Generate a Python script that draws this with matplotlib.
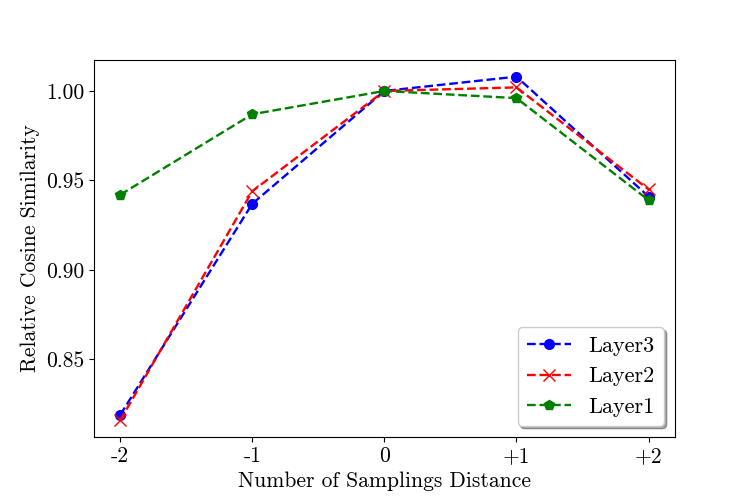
import matplotlib

matplotlib.use("Agg")
import matplotlib.pyplot as plt

plt.rcParams["font.family"] = ["cmr10", "DejaVu Serif"]
plt.rcParams["mathtext.fontset"] = "cm"
plt.rcParams["axes.formatter.use_mathtext"] = True

distances = [-2, -1, 0, 1, 2]
tick_labels = ["-2", "-1", "0", "+1", "+2"]
layer3 = [0.819, 0.937, 1.000, 1.008, 0.941]
layer2 = [0.816, 0.944, 1.000, 1.002, 0.945]
layer1 = [0.942, 0.987, 1.000, 0.996, 0.939]
y_ticks = [0.85, 0.90, 0.95, 1.00]

fig, ax = plt.subplots(figsize=(7.5, 5), dpi=100)
fig.subplots_adjust(left=0.125, right=0.9, top=0.88, bottom=0.126)

ax.plot(distances, layer3, "b--", marker="o", ms=7, lw=1.7, label="Layer3")
ax.plot(distances, layer2, "r--", marker="x", ms=8, lw=1.7, label="Layer2")
ax.plot(distances, layer1, "g--", marker="p", ms=7, lw=1.7, label="Layer1")

ax.set_xticks(distances)
ax.set_xticklabels(tick_labels)
ax.set_yticks(y_ticks)
ax.set_yticklabels([f"{v:.2f}" for v in y_ticks])
ax.set_ylim(0.8067, 1.0173)
ax.tick_params(labelsize=15.5)
ax.set_xlabel("Number of Samplings Distance", fontsize=15.5)
ax.set_ylabel("Relative Cosine Similarity", fontsize=15.5)
ax.legend(loc="lower right", fontsize=16, shadow=True, fancybox=True)

fig.savefig("out.png", dpi=100)
